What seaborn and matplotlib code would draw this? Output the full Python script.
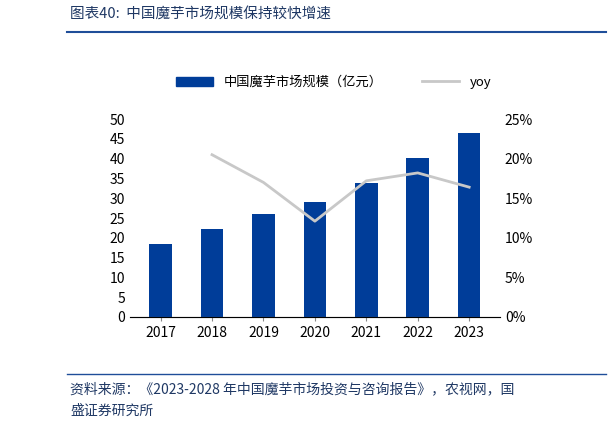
import matplotlib
matplotlib.use("Agg")
import matplotlib.pyplot as plt
import seaborn as sns
import pandas as pd
from matplotlib.ticker import FuncFormatter
from matplotlib.lines import Line2D
from matplotlib.patches import Patch

plt.rcParams["font.family"] = ["Noto Sans CJK SC", "DejaVu Sans"]

years = ["2017", "2018", "2019", "2020", "2021", "2022", "2023"]
market = [18.4, 22.2, 26.0, 29.0, 33.8, 40.2, 46.5]
yoy = [None, 20.5, 17.0, 12.1, 17.2, 18.2, 16.4]

df = pd.DataFrame({"year": years, "market": market, "yoy": yoy})

fig = plt.figure(figsize=(6.12, 4.30), dpi=100)
ax = fig.add_axes([0.212, 0.263, 0.605, 0.46])
sns.barplot(data=df, x="year", y="market", color="#003d99", width=0.44, ax=ax, saturation=1)
ax.set_ylim(0, 50)
ax.set_yticks(range(0, 51, 5))
ax.set_xlabel(""); ax.set_ylabel("")
ax2 = ax.twinx()
sns.lineplot(x=list(range(len(years))), y=yoy, color="#c8c8c8", linewidth=2, ax=ax2)
ax2.set_ylim(0, 25)
ax2.set_yticks(range(0, 26, 5))
ax2.yaxis.set_major_formatter(FuncFormatter(lambda v, p: f"{int(v)}%"))
ax.set_xlim(-0.6, 6.6)
for a in (ax, ax2):
    for s in ["top", "right", "left"]:
        a.spines[s].set_visible(False)
    a.tick_params(length=0, labelsize=10)
ax.spines["bottom"].set_color("#888888")
ax.tick_params(axis="x", length=3, color="#888888")

handles = [Patch(color="#003d99"), Line2D([], [], color="#c8c8c8", lw=2)]
fig.legend(handles, ["中国魔芋市场规模（亿元）", "yoy"], loc="center", bbox_to_anchor=(0.545, 0.808),
           ncol=2, frameon=False, fontsize=9.5, handlelength=2.8, columnspacing=3)

fig.text(0.115, 0.958, "图表40:  中国魔芋市场规模保持较快增速", fontsize=10.5, style="italic", color="#1f3864")
fig.add_artist(Line2D([0.11, 0.99], [0.925, 0.925], color="#1f4e99", lw=1.5))
fig.add_artist(Line2D([0.11, 0.99], [0.13, 0.13], color="#1f4e99", lw=1))
fig.text(0.115, 0.085, "资料来源：《2023-2028 年中国魔芋市场投资与咨询报告》，农视网，国", fontsize=10, style="italic", color="#1f3864")
fig.text(0.115, 0.035, "盛证券研究所", fontsize=10, style="italic", color="#1f3864")

fig.savefig("out.png", dpi=100)
